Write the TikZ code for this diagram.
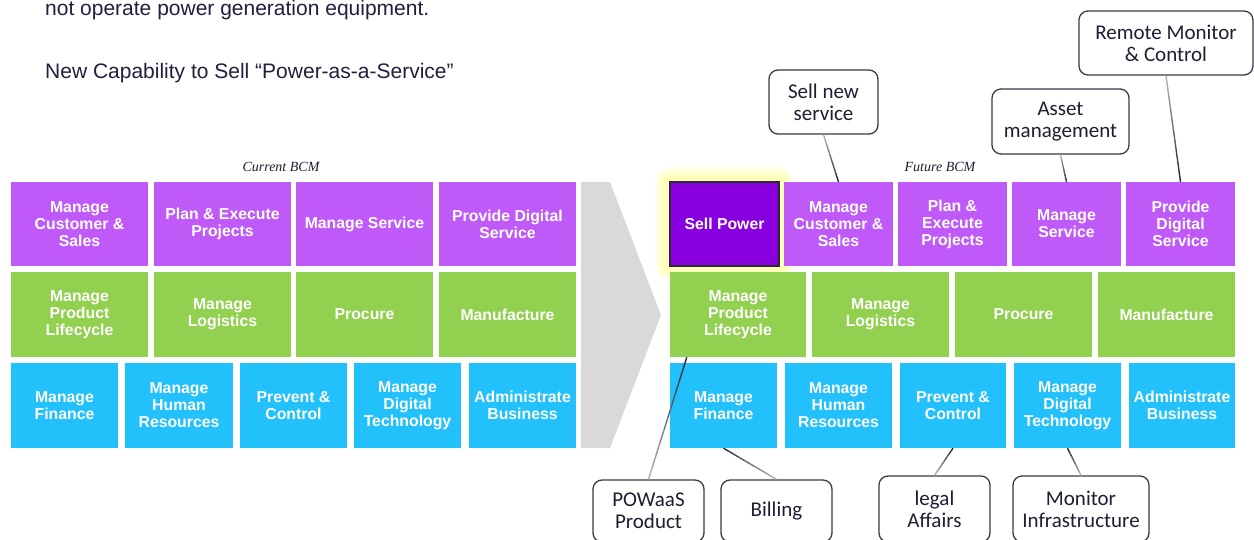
\documentclass[tikz,border=0pt]{standalone}
\usepackage{fontspec}
\setmainfont{Liberation Sans}
\newfontfamily\calfont{Carlito}
\newfontfamily\serfont{Liberation Serif}
\usetikzlibrary{calc}
\definecolor{cpurple}{HTML}{BF5AF8}
\definecolor{cgreen}{HTML}{92D050}
\definecolor{cblue}{HTML}{22C1FB}
\definecolor{csell}{HTML}{8800E0}
\definecolor{cgray}{HTML}{D9D9D9}
\definecolor{cdark}{HTML}{3A3A4C}
\definecolor{ctext}{HTML}{1E1E32}
\definecolor{ctitle}{HTML}{20203E}
\definecolor{glowc}{HTML}{FFFF80}
\definecolor{lnDark}{HTML}{2A2A3A}
\definecolor{lnLight}{HTML}{BDBDBD}
\newcommand\cellbox[7]{\node[#2, minimum width={(#5-#3)*1pt}, minimum height={(#6-#4)*1pt}] (#1) at ({(#3+#5)/2},{(#4+#6)/2}) {#7};}
\newcommand\conn[2]{\foreach \k in {0,...,9}{\pgfmathtruncatemacro\mix{100-\k*10}\draw[line width=1.4pt, color={lnDark!\mix!lnLight}] ($(#1)!{\k/10}!(#2)$) -- ($(#1)!{(\k+1)/10}!(#2)$);}}
\begin{document}
\begin{tikzpicture}[x=1pt,y=-1pt,
  cell/.style={inner sep=0pt, align=center, text=white, font=\bfseries\fontsize{15.8}{17}\selectfont},
  pcell/.style={cell, fill=cpurple},
  gcell/.style={cell, fill=cgreen},
  bcell/.style={cell, fill=cblue},
  sellcell/.style={cell, fill=csell, draw=lnDark, line width=1.2pt},
  callout/.style={draw=cdark, line width=1.3pt, rounded corners=9pt, fill=white, align=center, inner sep=0pt, text=ctext, font=\calfont\fontsize{21}{22}\selectfont},
  bcmlabel/.style={anchor=base, font=\serfont\itshape\fontsize{14}{16}\selectfont, text=ctext},
  title/.style={anchor=base west, inner sep=0pt, font=\fontsize{21}{25}\selectfont, text=ctitle}]
\clip (0,0) rectangle (1254,540);
\fill[white] (0,0) rectangle (1254,540);
% titles
\node[title] (t1) at (45,16) {not operate power generation equipment.};
\node[title] (t2) at (45,79) {New Capability to Sell “Power-as-a-Service”};
\node[bcmlabel] (lcur) at (281,172) {Current BCM};
\node[bcmlabel] (lfut) at (940,172) {Future BCM};
% transition arrow
\fill[cgray] (581,182) -- (610,182) -- (661,315) -- (610,448) -- (581,448) -- cycle;
% current BCM
\cellbox{c11}{pcell}{11}{182}{148}{266}{Manage\\Customer \&\\Sales}
\cellbox{c12}{pcell}{154}{182}{291}{266}{Plan \& Execute\\Projects}
\cellbox{c13}{pcell}{296}{182}{433}{266}{Manage Service}
\cellbox{c14}{pcell}{439}{182}{576}{266}{Provide Digital\\Service}
\cellbox{c21}{gcell}{11}{272}{148}{357}{Manage\\Product\\Lifecycle}
\cellbox{c22}{gcell}{154}{272}{291}{357}{Manage\\Logistics}
\cellbox{c23}{gcell}{296}{272}{433}{357}{Procure}
\cellbox{c24}{gcell}{439}{272}{576}{357}{Manufacture}
\cellbox{c31}{bcell}{11}{363}{118}{448}{Manage\\Finance}
\cellbox{c32}{bcell}{125}{363}{233}{448}{Manage\\Human\\Resources}
\cellbox{c33}{bcell}{240}{363}{347}{448}{Prevent \&\\Control}
\cellbox{c34}{bcell}{354}{363}{461}{448}{Manage\\Digital\\Technology}
\cellbox{c35}{bcell}{469}{363}{576}{448}{Administrate\\Business}
% glow
\foreach \r in {15,13,...,1}{\fill[glowc, opacity=0.12, rounded corners=\r pt] ({670-\r},{182-\r}) rectangle ({779+\r},{266+\r});}
% future BCM
\cellbox{f11}{sellcell}{670}{182}{779}{266}{Sell Power}
\cellbox{f12}{pcell}{784}{182}{893}{266}{Manage\\Customer \&\\Sales}
\cellbox{f13}{pcell}{898}{182}{1007}{266}{Plan \&\\Execute\\Projects}
\cellbox{f14}{pcell}{1012}{182}{1121}{266}{Manage\\Service}
\cellbox{f15}{pcell}{1126}{182}{1235}{266}{Provide\\Digital\\Service}
\cellbox{f21}{gcell}{670}{272}{806}{357}{Manage\\Product\\Lifecycle}
\cellbox{f22}{gcell}{812}{272}{949}{357}{Manage\\Logistics}
\cellbox{f23}{gcell}{955}{272}{1092}{357}{Procure}
\cellbox{f24}{gcell}{1098}{272}{1235}{357}{Manufacture}
\cellbox{f31}{bcell}{670}{363}{777}{448}{Manage\\Finance}
\cellbox{f32}{bcell}{785}{363}{892}{448}{Manage\\Human\\Resources}
\cellbox{f33}{bcell}{900}{363}{1006}{448}{Prevent \&\\Control}
\cellbox{f34}{bcell}{1014}{363}{1121}{448}{Manage\\Digital\\Technology}
\cellbox{f35}{bcell}{1129}{363}{1235}{448}{Administrate\\Business}
% callouts
\cellbox{sellnew}{callout}{769}{70}{878}{134}{Sell new\\service}
\cellbox{asset}{callout}{992}{89}{1129}{154}{Asset\\management}
\cellbox{remote}{callout}{1079}{11}{1253}{75}{Remote Monitor\\\& Control}
\cellbox{powaas}{callout}{593}{480}{704}{542}{POWaaS\\Product}
\cellbox{billing}{callout}{721}{480}{832}{542}{Billing}
\cellbox{legal}{callout}{879}{476}{990}{542}{legal\\Affairs}
\cellbox{monitor}{callout}{1013}{476}{1149}{542}{Monitor\\Infrastructure}
% connectors
\coordinate (pl) at ($(f21.south west)+(17,0)$);
\conn{f12.north}{sellnew.south}
\conn{f14.north}{asset.south}
\conn{f15.north}{remote.south}
\conn{pl}{powaas.north}
\conn{f31.south}{billing.north}
\conn{f33.south}{legal.north}
\conn{f34.south}{monitor.north}
\end{tikzpicture}
\end{document}
